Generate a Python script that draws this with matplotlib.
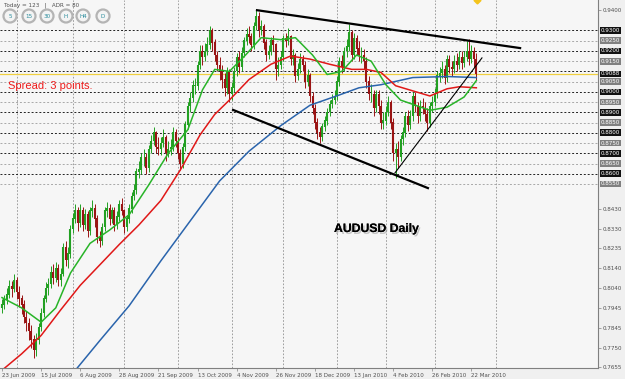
import matplotlib
matplotlib.use("Agg")
from matplotlib import pyplot as plt
from matplotlib import patches
import matplotlib.patheffects as pe
import numpy as np

# daily bars (pips), weekdays from 23 Jun 2009, no bars on 25 Dec and 1 Jan
closes = [7960, 7985, 8010, 8050, 8035, 8080, 8020, 7990, 7960, 7900,
          7870, 7830, 7790, 7740, 7790, 7850, 7920, 7990, 8040, 8060,
          8120, 8090, 8140, 8080, 8110, 8240, 8180, 8210, 8330, 8380,
          8420, 8360, 8420, 8350, 8400, 8320, 8420, 8430, 8380, 8290,
          8270, 8340, 8420, 8430, 8380, 8420, 8350, 8390, 8450, 8420,
          8340, 8380, 8430, 8490, 8520, 8610, 8620, 8680, 8680, 8630,
          8720, 8760, 8800, 8730, 8720, 8750, 8780, 8700, 8720, 8730,
          8800, 8760, 8700, 8650, 8730, 8840, 8930, 8970, 9030, 9030,
          9130, 9200, 9170, 9200, 9230, 9300, 9240, 9180, 9130, 9100,
          9060, 9020, 9100, 8990, 9020, 9100, 9170, 9120, 9190, 9250,
          9280, 9270, 9230, 9320, 9370, 9300, 9320, 9240, 9180, 9200,
          9250, 9230, 9110, 9130, 9170, 9260, 9250, 9270, 9160, 9180,
          9080, 9110, 9160, 9130, 9050, 9080, 8980, 8920, 8850, 8800,
          8780, 8830, 8860, 8900, 8940, 8960, 8980, 9050, 9150, 9120,
          9200, 9220, 9290, 9180, 9260, 9210, 9180, 9180, 9150, 9050,
          8990, 8990, 8920, 8990, 8930, 8850, 8860, 8900, 8950, 8850,
          8700, 8720, 8680, 8770, 8800, 8880, 8840, 8880, 8980, 8930,
          8880, 8930, 8920, 8890, 8850, 8930, 8950, 8990, 9080, 9090,
          9110, 9070, 9160, 9120, 9110, 9150, 9130, 9170, 9140, 9170,
          9200, 9160, 9200, 9160, 9088]
highs = [7990, 8010, 8040, 8080, 8075, 8110, 8095, 8050, 8010, 7985,
         7930, 7895, 7860, 7810, 7820, 7870, 7945, 8010, 8070, 8090,
         8150, 8160, 8170, 8160, 8140, 8260, 8270, 8240, 8350, 8410,
         8450, 8440, 8450, 8440, 8430, 8420, 8440, 8470, 8450, 8400,
         8320, 8360, 8440, 8460, 8450, 8440, 8440, 8420, 8470, 8480,
         8430, 8400, 8450, 8510, 8550, 8630, 8660, 8700, 8720, 8700,
         8740, 8790, 8830, 8810, 8780, 8780, 8820, 8790, 8760, 8770,
         8830, 8820, 8780, 8720, 8750, 8860, 8950, 9000, 9060, 9070,
         9150, 9230, 9230, 9240, 9270, 9320, 9310, 9260, 9200, 9170,
         9130, 9090, 9120, 9110, 9050, 9120, 9190, 9200, 9220, 9270,
         9310, 9320, 9290, 9340, 9405, 9390, 9350, 9330, 9260, 9230,
         9270, 9280, 9240, 9170, 9200, 9280, 9290, 9310, 9280, 9210,
         9190, 9140, 9190, 9180, 9150, 9110, 9090, 9000, 8940, 8870,
         8830, 8850, 8880, 8920, 8960, 8990, 9010, 9080, 9170, 9180,
         9220, 9260, 9330, 9300, 9290, 9280, 9250, 9220, 9210, 9170,
         9080, 9040, 9010, 9010, 9010, 8960, 8900, 8930, 8980, 8960,
         8870, 8750, 8760, 8790, 8830, 8900, 8910, 8910, 9000, 9000,
         8950, 8960, 8970, 8950, 8920, 8950, 8980, 9020, 9100, 9120,
         9150, 9130, 9180, 9180, 9150, 9180, 9190, 9200, 9200, 9200,
         9250, 9260, 9230, 9220, 9190]
lows = [7920, 7940, 7965, 7995, 8000, 8020, 7990, 7950, 7915, 7870,
        7830, 7790, 7750, 7700, 7710, 7770, 7830, 7900, 7975, 8010,
        8040, 8060, 8070, 8050, 8050, 8100, 8150, 8140, 8190, 8310,
        8360, 8320, 8340, 8320, 8330, 8290, 8300, 8390, 8340, 8260,
        8240, 8250, 8320, 8390, 8350, 8360, 8320, 8330, 8370, 8400,
        8310, 8320, 8360, 8410, 8470, 8500, 8580, 8600, 8640, 8600,
        8610, 8700, 8740, 8700, 8690, 8690, 8730, 8660, 8680, 8690,
        8710, 8730, 8670, 8620, 8630, 8710, 8820, 8900, 8950, 8990,
        9010, 9110, 9130, 9150, 9180, 9210, 9200, 9150, 9100, 9060,
        9020, 8980, 8990, 8950, 8960, 9000, 9080, 9090, 9100, 9170,
        9230, 9240, 9200, 9210, 9300, 9270, 9280, 9210, 9150, 9160,
        9180, 9200, 9060, 9080, 9110, 9150, 9220, 9230, 9130, 9130,
        9050, 9060, 9090, 9100, 9020, 9030, 8950, 8890, 8820, 8770,
        8750, 8760, 8810, 8840, 8880, 8920, 8940, 8960, 9030, 9090,
        9100, 9170, 9200, 9150, 9160, 9180, 9150, 9140, 9110, 9020,
        8960, 8950, 8880, 8900, 8890, 8820, 8820, 8840, 8880, 8820,
        8660, 8580, 8630, 8660, 8740, 8780, 8810, 8820, 8860, 8900,
        8850, 8860, 8890, 8860, 8810, 8830, 8900, 8930, 8970, 9050,
        9070, 9040, 9050, 9090, 9080, 9090, 9100, 9110, 9110, 9120,
        9150, 9130, 9140, 9120, 9060]

# moving averages (bar index, price)
ma_green_idx = [0, 8, 16, 22, 28, 36, 44, 52, 60, 68, 76, 82, 87, 93, 100, 106, 114, 120, 127, 133, 139, 145, 151, 157, 163, 175, 182, 189, 194]
ma_green = [0.7995, 0.7945, 0.7875, 0.7945, 0.8115, 0.8260, 0.8325, 0.8400, 0.8545, 0.8700, 0.8815, 0.9010, 0.9110, 0.9100, 0.9185, 0.9265, 0.9255, 0.9265, 0.9180, 0.9085, 0.9100, 0.9180, 0.9150, 0.9035, 0.8960, 0.8910, 0.8925, 0.8975, 0.9055]
ma_red_idx = [0, 8, 16, 24, 32, 40, 48, 56, 65, 73, 81, 87, 93, 101, 110, 118, 126, 134, 143, 149, 155, 161, 175, 182, 187, 194]
ma_red = [0.7640, 0.7720, 0.7810, 0.7935, 0.8055, 0.8155, 0.8255, 0.8350, 0.8470, 0.8620, 0.8790, 0.8890, 0.8960, 0.9060, 0.9135, 0.9175, 0.9160, 0.9135, 0.9110, 0.9110, 0.9095, 0.9030, 0.8980, 0.9015, 0.9025, 0.9020]
ma_blue_idx = [30, 40, 52, 65, 77, 89, 101, 114, 126, 138, 146, 155, 168, 182, 194]
ma_blue = [0.7640, 0.7785, 0.7955, 0.8175, 0.8370, 0.8565, 0.8710, 0.8835, 0.8935, 0.8985, 0.9020, 0.9035, 0.9070, 0.9075, 0.9070]

# trend lines: (bar index, price) end points
trend_top = ([104.3, 211.9], [0.9399, 0.9214])
trend_low = ([94.5, 174.2], [0.8912, 0.8530])
trend_up = ([160.7, 196.3], [0.8604, 0.9166])

hlines_black = [0.86, 0.87, 0.88, 0.89, 0.90, 0.91, 0.92, 0.93]
hlines_grey = [0.855, 0.865, 0.875, 0.885, 0.895, 0.905, 0.915, 0.925]
bid = 0.9088

grid_ticks = [0.7655, 0.7750, 0.7845, 0.7945, 0.8040, 0.8140, 0.8235, 0.8330, 0.8430, 0.9400]
month_idx = [6, 29, 50, 72, 94, 115, 137, 157, 177, 202]
date_idx = [0, 16, 32, 48, 64, 80, 96, 112, 128, 144, 160, 176, 192]
date_lbl = ["23 Jun 2009", "15 Jul 2009", "6 Aug 2009", "28 Aug 2009", "21 Sep 2009",
            "13 Oct 2009", "4 Nov 2009", "26 Nov 2009", "18 Dec 2009", "13 Jan 2010",
            "4 Feb 2010", "26 Feb 2010", "22 Mar 2010"]

c = np.array(closes) / 10000.0
o = np.concatenate([[0.7945], c[:-1]])
hi_ = np.array(highs) / 10000.0
lo_ = np.array(lows) / 10000.0
x = np.arange(len(c))

W, H = 625, 379
fig = plt.figure(figsize=(W / 100, H / 100), dpi=100, facecolor="#f0f0f0")
ax = fig.add_axes([0, 11 / H, 598 / W, 368 / H], facecolor="#f6f6f6")
ax.set_xlim(-0.82, 243.76)
ax.set_ylim(0.94 - 358 / 2047, 0.94 + 10 / 2047)

for m in month_idx:
    ax.axvline(m, color="#909090", lw=0.6, ls=(0, (2, 2)), zorder=1)
for h in hlines_grey:
    ax.axhline(h, color="#a8a8a8", lw=0.7, ls=(0, (2, 2)), zorder=1)
for h in hlines_black:
    ax.axhline(h, color="#202020", lw=0.7, ls=(0, (2, 2)), zorder=1)
ax.axhline(bid, color="#f0d040", lw=0.9, zorder=1)

up = c >= o
bot = np.minimum(o, c)
top = np.maximum(o, c) + 0.0002
for mask, col in [(up, "#22a022"), (~up, "#9a1414")]:
    ax.vlines(x[mask], lo_[mask], hi_[mask], color=col, lw=0.7, zorder=3)
    ax.vlines(x[mask], bot[mask], top[mask], color=col, lw=1.5, zorder=3)

ax.plot(ma_blue_idx, ma_blue, color="#2a64ac", lw=1.1, zorder=4)
ax.plot(ma_red_idx, ma_red, color="#e01818", lw=1.1, zorder=4)
ax.plot(ma_green_idx, ma_green, color="#28b428", lw=1.1, zorder=4)

ax.plot(*trend_top, color="black", lw=1.6, zorder=5)
ax.plot(*trend_low, color="black", lw=1.6, zorder=5)
ax.plot(*trend_up, color="black", lw=0.8, zorder=5)

ax.plot([194.3], [0.9448], marker="D", ms=3.5, color="#f4c41c", clip_on=False, zorder=6)

for s in ["top", "left"]:
    ax.spines[s].set_visible(False)
ax.spines["right"].set_color("#808080")
ax.spines["bottom"].set_color("#808080")

ax.yaxis.tick_right()
ax.set_yticks(grid_ticks)
ax.set_yticklabels([f"{t:.4f}" for t in grid_ticks])
ax.tick_params(axis="y", length=2, width=0.5, colors="#808080", labelsize=4.1, pad=1.5)
ax.set_xticks(date_idx)
ax.set_xticklabels(date_lbl)
ax.tick_params(axis="x", length=2, width=0.5, colors="#808080", labelsize=4.0, pad=1.5)
for lab in ax.get_xticklabels():
    lab.set_horizontalalignment("left")
    lab.set_color("#505050")
for lab in ax.get_yticklabels():
    lab.set_color("#505050")

# price labels of the horizontal lines (0.9100 sits under the bid label)
for h in hlines_black + hlines_grey + [bid]:
    if h == 0.91:
        continue
    fc = "#101010" if h in hlines_black or h == bid else "#808080"
    ax.text(1.005, h, f"{h:.4f}", transform=ax.get_yaxis_transform(), fontsize=4.1,
            color="white", va="center", ha="left",
            bbox=dict(boxstyle="square,pad=0.15", fc=fc, ec="none"))

fig.text(4 / W, 1 - 5 / H, "Today = 123   |   ADR = 80", fontsize=4.1, color="#505050", va="center")
for cx, lab in zip([10, 29, 47, 66, 83, 103], ["5", "15", "30", "H", "H4", "D"]):
    e = patches.Ellipse((cx / W, 1 - 16 / H), 13 / W, 13 / H, transform=fig.transFigure,
                        fc="#f4f4f4", ec="#b4b4b4", lw=1.6)
    fig.add_artist(e)
    fig.text(cx / W, 1 - 16 / H, lab, fontsize=4.1, color="#2a8c9c", ha="center", va="center")

fig.text(8 / W, 1 - 86 / H, "Spread: 3 points.", fontsize=8, color="#ee1c1c",
         family="Liberation Sans", va="center")
fig.text(334 / W, 1 - 229 / H, "AUDUSD Daily", fontsize=8.8, fontweight="bold", color="black",
         family="Liberation Sans", va="center",
         path_effects=[pe.withSimplePatchShadow(offset=(1.2, -1.4), shadow_rgbFace="#888888", alpha=0.45),
                       pe.Normal()])

fig.savefig("out.png", dpi=100, facecolor=fig.get_facecolor())
